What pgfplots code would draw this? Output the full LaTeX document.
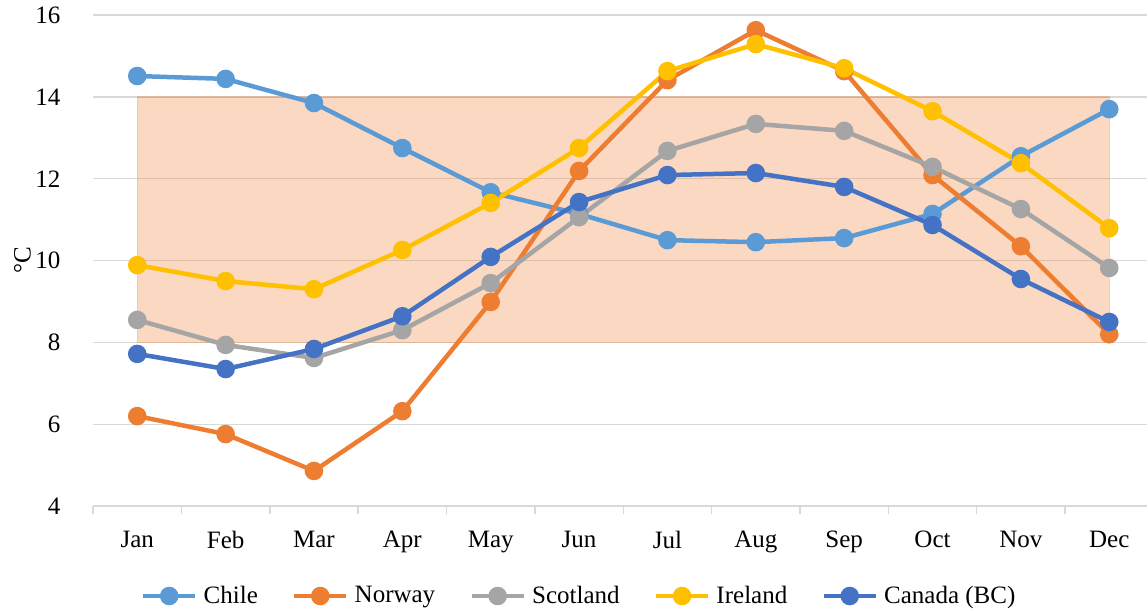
\documentclass[border=0pt]{standalone}
\usepackage{fontspec}
\setmainfont{Liberation Serif}
\newfontfamily\legfont{Liberation Serif}
\usepackage{pgfplots}
\pgfplotsset{compat=1.18}
\definecolor{chile}{HTML}{5B9BD5}
\definecolor{norway}{HTML}{ED7D31}
\definecolor{scotland}{HTML}{A5A5A5}
\definecolor{ireland}{HTML}{FFC000}
\definecolor{canada}{HTML}{4472C4}
\definecolor{gridgray}{HTML}{D9D9D9}

\begin{document}
\begin{tikzpicture}
\begin{axis}[
  scale only axis,
  width=527pt, height=245.5pt,
  xmin=-0.5, xmax=11.43,
  ymin=4, ymax=16,
  ytick={4,6,...,16},
  xtick={0,...,11},
  xticklabels={Jan,Feb,Mar,Apr,May,Jun,Jul,Aug,Sep,Oct,Nov,Dec},
  minor xtick={-0.5,0.5,...,10.5},
  major x tick style={draw=none},
  minor x tick style={draw=gridgray, line width=0.75pt},
  minor tick length=4pt,
  tick align=outside,
  ytick style={draw=none},
  axis x line*=bottom,
  axis y line*=left,
  x axis line style={draw=gridgray, line width=0.75pt},
  y axis line style={draw=none},
  ymajorgrids,
  major grid style={draw=gridgray, line width=0.75pt},
  /pgf/number format/assume math mode=true,
  tick label style={font=\rmfamily\fontsize{12.5}{14}\selectfont},
  yticklabel style={xshift=-8.5pt},
  xticklabel style={yshift=-4.5pt},
  ylabel={°C},
  ylabel style={font=\rmfamily\fontsize{12.5}{14}\selectfont, at={(axis description cs:-0.067,0.5)}, anchor=center, inner ysep=7pt},
  every axis plot/.append style={line width=2.25pt, mark=*, mark size=3.5pt, mark options={solid}},
  legend columns=5,
  legend style={draw=none, fill=none, inner sep=0pt,
    font=\fontsize{12.5}{14}\selectfont,
    at={(axis description cs:0.462,-0.183)}, anchor=center,
    /tikz/every odd column/.append style={column sep=1pt},
    /tikz/every even column/.append style={column sep=15pt}},
  legend image code/.code={
    \draw[mark repeat=2,mark phase=2] plot coordinates {(0cm,0cm) (0.46cm,0cm) (0.92cm,0cm)};
  },
]
% target band 8 to 14
\addplot[forget plot, mark=none, line width=0.6pt, draw=norway, draw opacity=0.3, fill=norway, fill opacity=0.3]
  coordinates {(0,8) (11,8) (11,14) (0,14) (0,8)};

\addplot[color=chile] coordinates {
  (0,14.51) (1,14.44) (2,13.85) (3,12.75) (4,11.67) (5,11.14)
  (6,10.50) (7,10.45) (8,10.55) (9,11.14) (10,12.55) (11,13.70)};
\addlegendentry{\legfont Chile}
\addplot[color=norway] coordinates {
  (0,6.20) (1,5.76) (2,4.86) (3,6.32) (4,8.99) (5,12.19)
  (6,14.41) (7,15.63) (8,14.63) (9,12.09) (10,10.35) (11,8.20)};
\addlegendentry{\legfont Norway}
\addplot[color=scotland] coordinates {
  (0,8.55) (1,7.94) (2,7.62) (3,8.30) (4,9.45) (5,11.06)
  (6,12.68) (7,13.34) (8,13.17) (9,12.29) (10,11.26) (11,9.82)};
\addlegendentry{\legfont Scotland}
\addplot[color=ireland] coordinates {
  (0,9.89) (1,9.50) (2,9.30) (3,10.26) (4,11.41) (5,12.75)
  (6,14.63) (7,15.29) (8,14.70) (9,13.65) (10,12.38) (11,10.79)};
\addlegendentry{\legfont Ireland}
\addplot[color=canada] coordinates {
  (0,7.72) (1,7.35) (2,7.84) (3,8.64) (4,10.09) (5,11.43)
  (6,12.09) (7,12.14) (8,11.80) (9,10.87) (10,9.55) (11,8.50)};
\addlegendentry{\legfont Canada (BC)}
\end{axis}
\end{tikzpicture}
\end{document}
